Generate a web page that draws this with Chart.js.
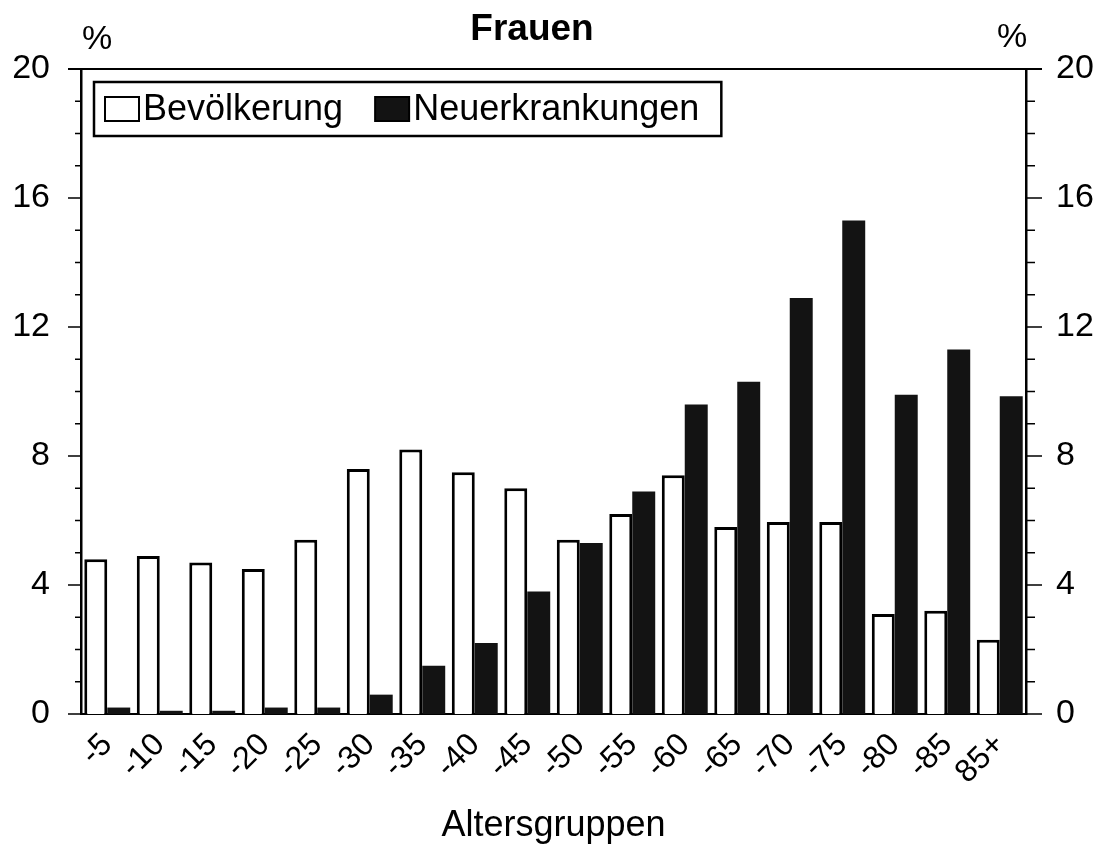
<!DOCTYPE html>
<html>
<head>
<meta charset="utf-8">
<script src="https://cdn.jsdelivr.net/npm/chart.js@4/dist/chart.umd.min.js"></script>
<style>
  body { margin: 0; background: #fff; }
  #wrap { width: 1101px; height: 858px; position: relative; }
</style>
</head>
<body>
<div id="wrap"><canvas id="barChart"></canvas></div>
<script>
// Altersgruppen and shares (%)
var categories = ['-5', '-10', '-15', '-20', '-25', '-30', '-35', '-40', '-45',
                  '-50', '-55', '-60', '-65', '-70', '-75', '-80', '-85', '85+'];
var bevoelkerung = [4.8, 4.9, 4.7, 4.5, 5.4, 7.6, 8.2, 7.5, 7.0,
                    5.4, 6.2, 7.4, 5.8, 5.95, 5.95, 3.1, 3.2, 2.3];
var neuerkrankungen = [0.2, 0.1, 0.1, 0.2, 0.2, 0.6, 1.5, 2.2, 3.8,
                       5.3, 6.9, 9.6, 10.3, 12.9, 15.3, 9.9, 11.3, 9.85];
var yTicks = [0, 4, 8, 12, 16, 20];
var seriesNames = ['Bevölkerung', 'Neuerkrankungen'];
var chartTitle = 'Frauen';

var FONT = '"Liberation Sans", Arial, sans-serif';

// minor/major ticks on both y axes, top frame line, title and "%" units
var frameTicks = {
    id: 'frameTicks',
    afterDraw: function (chart) {
        var c = chart.ctx, a = chart.chartArea;
        var y = chart.scales.y;
        c.save();
        c.strokeStyle = '#000';
        c.lineWidth = 1.5;
        for (var v = y.min; v <= y.max; v++) {
            var py = y.getPixelForValue(v);
            var major = yTicks.indexOf(v) >= 0;
            c.beginPath();
            c.moveTo(a.left - (major ? 13 : 6), py);
            c.lineTo(a.left, py);
            c.moveTo(a.right, py);
            c.lineTo(a.right + (major ? 16 : 9), py);
            c.stroke();
        }
        c.lineWidth = 2;
        c.beginPath();
        c.moveTo(a.left - 13, a.top);
        c.lineTo(a.right + 16, a.top);
        c.stroke();

        c.fillStyle = '#000';
        c.textAlign = 'center';
        c.textBaseline = 'middle';
        c.font = 'bold 37px ' + FONT;
        c.fillText(chartTitle, 532, 30);
        c.font = '34px ' + FONT;
        c.fillText('%', 97, 40);
        c.fillText('%', 1012, 38);
        c.restore();
    }
};

// framed legend inside the plot, top-left
var boxLegend = {
    id: 'boxLegend',
    afterDraw: function (chart) {
        var c = chart.ctx, a = chart.chartArea;
        var x0 = a.left + 13, y0 = a.top + 13, h = 54;
        c.save();
        c.font = '36px ' + FONT;
        c.textBaseline = 'middle';
        c.textAlign = 'left';
        var x = x0 + 11;
        var cy = y0 + h / 2;
        var items = [];
        chart.data.datasets.forEach(function (ds, i) {
            items.push({ x: x, ds: ds });
            x += 34 + 4 + c.measureText(ds.label).width + 32;
        });
        var w = x - 32 + 22 - x0;
        c.fillStyle = '#fff';
        c.fillRect(x0, y0, w, h);
        c.strokeStyle = '#000';
        c.lineWidth = 2.5;
        c.strokeRect(x0, y0, w, h);
        items.forEach(function (it) {
            c.fillStyle = it.ds.backgroundColor;
            c.fillRect(it.x, cy - 12, 34, 24);
            c.lineWidth = 2;
            c.strokeStyle = '#000';
            c.strokeRect(it.x, cy - 12, 34, 24);
            c.fillStyle = '#000';
            c.fillText(it.ds.label, it.x + 38, cy + 1);
        });
        c.restore();
    }
};

var ctx = document.getElementById('barChart').getContext('2d');
var chart = new Chart(ctx, {
    type: 'bar',
    data: {
        labels: categories,
        datasets: [{
            label: seriesNames[0],
            data: bevoelkerung,
            backgroundColor: '#ffffff',
            borderColor: '#000000',
            borderWidth: 3
        }, {
            label: seriesNames[1],
            data: neuerkrankungen,
            backgroundColor: '#131313',
            borderColor: '#131313',
            borderWidth: 0
        }]
    },
    options: {
        responsive: true,
        maintainAspectRatio: false,
        animation: false,
        layout: { padding: { top: 69 } },
        datasets: {
            bar: { categoryPercentage: 0.875, barPercentage: 1.0 }
        },
        plugins: {
            legend: { display: false },
            tooltip: { enabled: false }
        },
        scales: {
            x: {
                grid: { display: false },
                border: { display: true, color: '#000', width: 2 },
                ticks: {
                    color: '#000',
                    font: { family: FONT, size: 32 },
                    autoSkip: false,
                    minRotation: 45,
                    maxRotation: 45,
                    padding: 4
                },
                title: {
                    display: true,
                    text: 'Altersgruppen',
                    color: '#000',
                    font: { family: FONT, size: 36 },
                    padding: { top: 10, bottom: 10 }
                },
                afterFit: function (s) { s.height = 144; }
            },
            y: {
                position: 'left',
                min: yTicks[0],
                max: yTicks[yTicks.length - 1],
                grid: { display: false },
                border: { display: true, color: '#000', width: 2.5 },
                ticks: {
                    stepSize: yTicks[1] - yTicks[0],
                    color: '#000',
                    font: { family: FONT, size: 34 },
                    padding: 23
                },
                afterFit: function (s) { s.width = 81; }
            },
            y2: {
                position: 'right',
                min: yTicks[0],
                max: yTicks[yTicks.length - 1],
                grid: { display: false },
                border: { display: true, color: '#000', width: 2.5 },
                ticks: {
                    stepSize: yTicks[1] - yTicks[0],
                    color: '#000',
                    font: { family: FONT, size: 34 },
                    padding: 22
                },
                afterFit: function (s) { s.width = 75; }
            }
        }
    },
    plugins: [frameTicks, boxLegend]
});
</script>
</body>
</html>
